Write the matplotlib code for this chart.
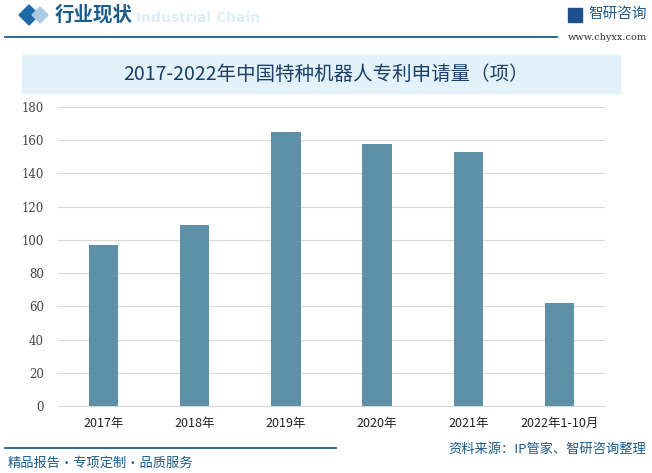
import matplotlib
matplotlib.use('Agg')
import matplotlib.pyplot as plt
from matplotlib.patches import Rectangle, Polygon

plt.rcParams['font.family'] = ['Noto Sans CJK SC', 'DejaVu Sans']

# data
years = ['2017年', '2018年', '2019年', '2020年', '2021年', '2022年1-10月']
patents = [97, 109, 165, 158, 153, 62]
yticks = [0, 20, 40, 60, 80, 100, 120, 140, 160, 180]

title = '2017-2022年中国特种机器人专利申请量（项）'
source = '资料来源：IP管家、智研咨询整理'
slogan = '精品报告·专项定制·品质服务'

W, H = 652, 473
fig = plt.figure(figsize=(W / 100, H / 100), dpi=100)

def fx(px):
    return px / W

def fy(py):
    return 1 - py / H

darkblue = '#1B5C8C'
barcol = '#5E91A8'

# header
fig.add_artist(Polygon([[fx(19), fy(15)], [fx(29), fy(5)], [fx(39), fy(15)], [fx(29), fy(25)]],
                       closed=True, color='#1E6AA6', transform=fig.transFigure))
fig.add_artist(Polygon([[fx(32), fy(15)], [fx(40), fy(7)], [fx(48), fy(15)], [fx(40), fy(23)]],
                       closed=True, color='#A9CBE6', transform=fig.transFigure))
fig.text(fx(55), fy(15), '行业现状', fontsize=14, fontweight='bold', color=darkblue, va='center')
fig.text(fx(136), fy(18), 'Industrial Chain', fontsize=10, fontweight='bold', color='#DCEEFA',
         va='center', family='DejaVu Sans', zorder=0)
fig.add_artist(plt.Line2D([fx(5), fx(557)], [fy(37), fy(37)], color=darkblue, lw=1.3,
                          transform=fig.transFigure))
fig.add_artist(Rectangle((fx(568), fy(22)), fx(14), 14 / H, color='#1E4E8C',
                         transform=fig.transFigure))
fig.text(fx(588), fy(14), '智研咨询', fontsize=10.5, color=darkblue, va='center')
fig.text(fx(568), fy(37), 'www.chyxx.com', fontsize=7, color='#333333', va='center',
         family='DejaVu Serif')

# title box
fig.add_artist(Rectangle((fx(22), fy(93)), fx(598), 38 / H, color='#E3F1FA',
                         transform=fig.transFigure, zorder=0))
fig.text(fx(326), fy(74), title, fontsize=14, color='#1B3F66', ha='center', va='center',
         fontweight='medium')

ax = fig.add_axes([fx(58), fy(406), fx(605) - fx(58), (406 - 107) / H])
x = range(len(years))
ax.bar(x, patents, width=0.32, color=barcol, zorder=3)
ax.set_xlim(-0.5, len(years) - 0.5)
ax.set_ylim(0, 180)
ax.set_yticks(yticks)
ax.set_yticklabels([str(v) for v in yticks], family='DejaVu Serif', fontsize=8.5, color='#444444')
ax.set_xticks(list(x))
ax.set_xticklabels(years, fontsize=9, color='#222222')
ax.tick_params(axis='both', length=0)
ax.tick_params(axis='x', pad=8)
ax.tick_params(axis='y', pad=10)
ax.grid(axis='y', color='#D9D9D9', lw=0.8, zorder=0)
for s in ['top', 'right', 'left']:
    ax.spines[s].set_visible(False)
ax.spines['bottom'].set_color('#D9D9D9')
ax.patch.set_alpha(0)

# footer
fig.add_artist(plt.Line2D([fx(5), fx(336)], [fy(448), fy(448)], color=darkblue, lw=1.3,
                          transform=fig.transFigure))
fig.text(fx(8), fy(463), slogan, fontsize=9.5, color=darkblue, va='center')
fig.text(fx(646), fy(449), source, fontsize=9.5, color=darkblue, va='center', ha='right')

fig.savefig('out.png', dpi=100)
